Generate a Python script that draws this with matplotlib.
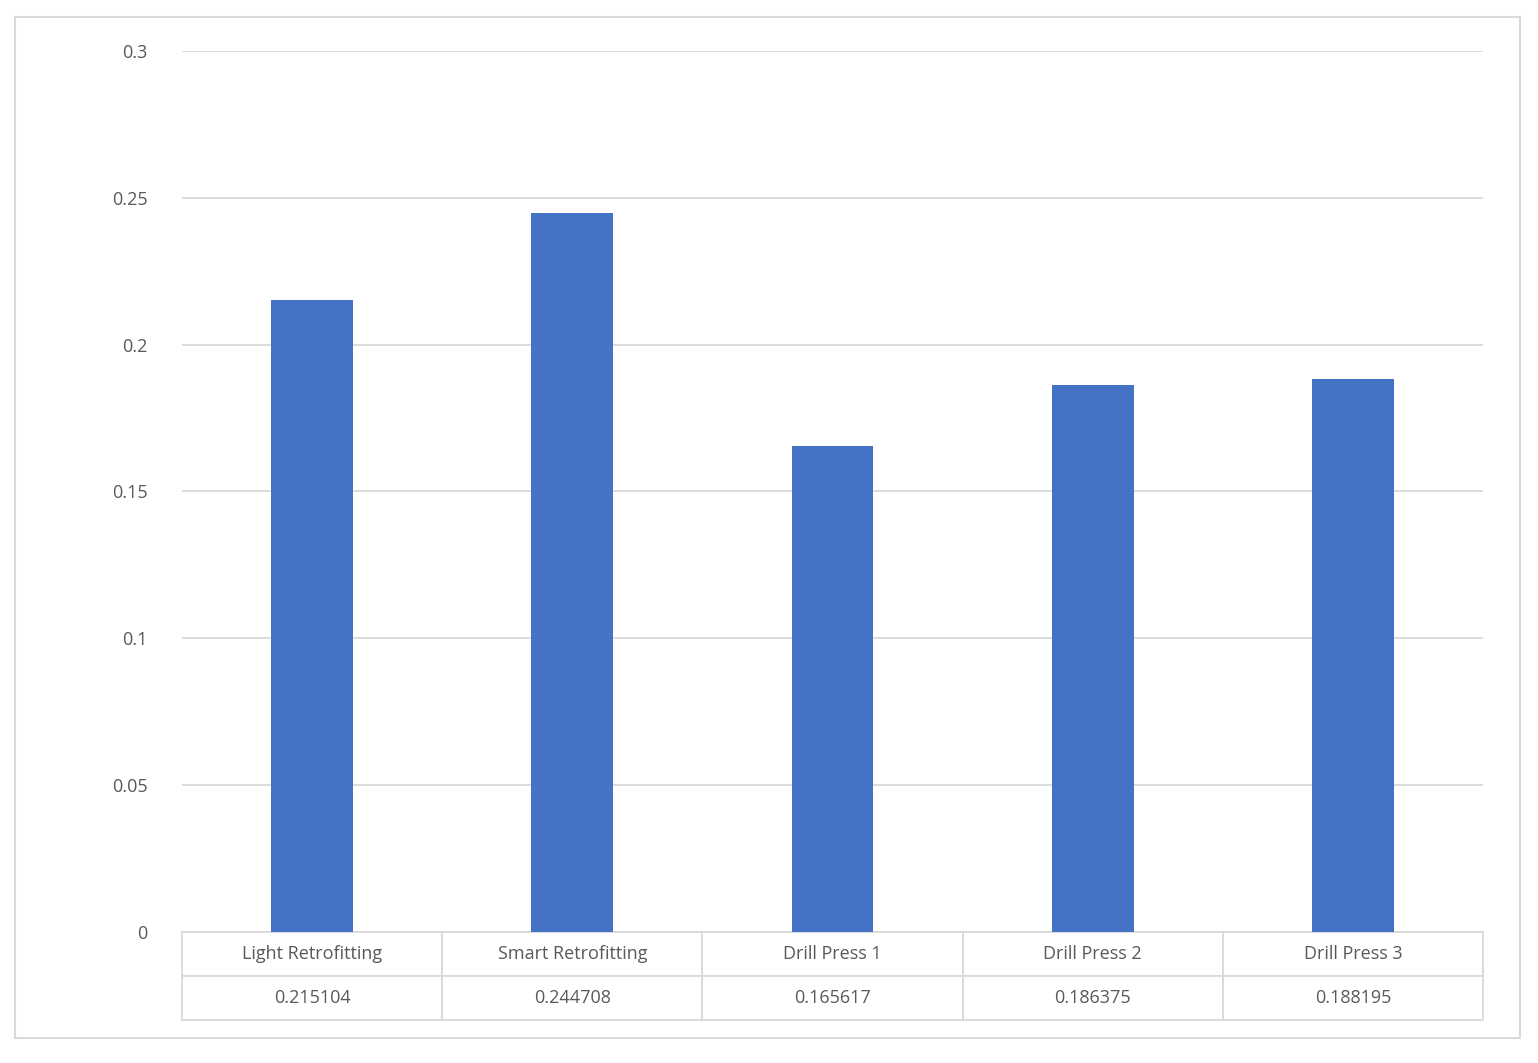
import matplotlib
matplotlib.use("Agg")
import matplotlib.pyplot as plt
from matplotlib.patches import Rectangle

categories = ["Light Retrofitting", "Smart Retrofitting", "Drill Press 1", "Drill Press 2", "Drill Press 3"]
values = [0.215104, 0.244708, 0.165617, 0.186375, 0.188195]
value_labels = ["0.215104", "0.244708", "0.165617", "0.186375", "0.188195"]
yticks = [0, 0.05, 0.1, 0.15, 0.2, 0.25, 0.3]
ytick_labels = ["0", "0.05", "0.1", "0.15", "0.2", "0.25", "0.3"]

plt.rcParams['font.family'] = ['Open Sans', 'DejaVu Sans']
text_col = "#595959"
grid_col = "#d9d9d9"

W, H = 1538, 1063
fig = plt.figure(figsize=(W / 100, H / 100), dpi=100)
fig.patches.append(Rectangle((15 / W, 1 - 1038 / H), 1505 / W, 1021 / H,
                             transform=fig.transFigure, fill=False,
                             edgecolor=grid_col, linewidth=1.5))

ax = fig.add_axes([182 / W, 1 - 932 / H, 1301 / W, 881 / H])
x = range(len(categories))
ax.bar(x, values, width=0.315, color="#4472c4", zorder=3)
ax.set_xlim(-0.5, len(categories) - 0.5)
ax.set_ylim(0, 0.3)
ax.set_yticks(yticks)
ax.set_yticklabels(ytick_labels, fontsize=13, color=text_col)
ax.tick_params(axis="y", length=0, pad=25)
ax.set_xticks([])
ax.grid(axis="y", color=grid_col, linewidth=1.3, zorder=0)
for s in ax.spines.values():
    s.set_visible(False)

tbl = ax.table(cellText=[categories, value_labels], cellLoc="center",
               bbox=[0, -88 / 881, 1, 88 / 881])
tbl.auto_set_font_size(False)
for cell in tbl.get_celld().values():
    cell.set_edgecolor(grid_col)
    cell.set_linewidth(1.3)
    cell.get_text().set_fontsize(13)
    cell.get_text().set_color(text_col)

fig.savefig("out.png", dpi=100)
